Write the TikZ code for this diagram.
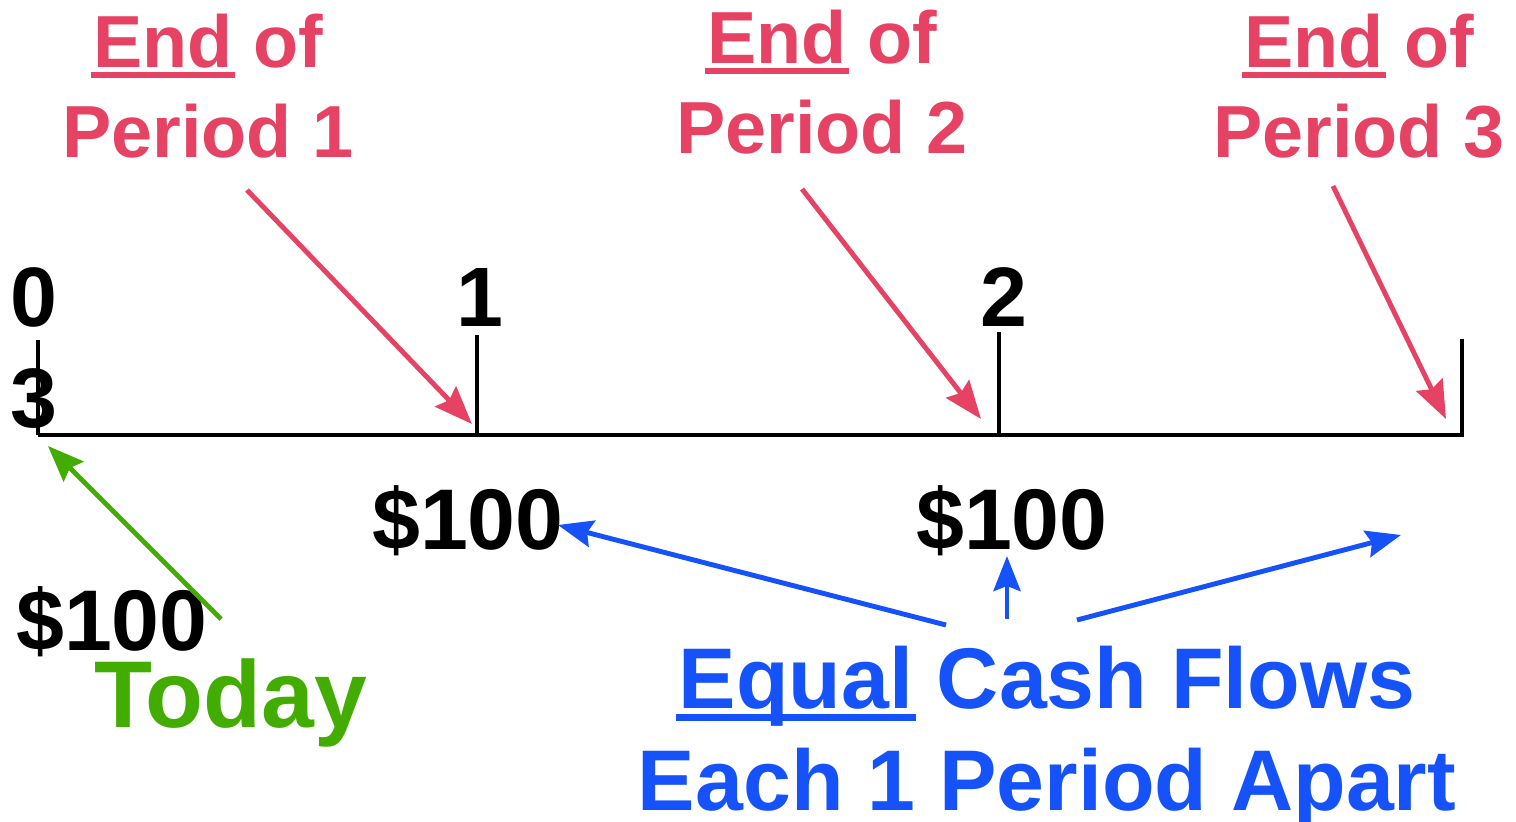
\documentclass[tikz,border=0pt]{standalone}
\usepackage{fontspec}
\setmainfont{Liberation Sans}
\usetikzlibrary{arrows.meta}

\definecolor{endred}{RGB}{230,67,100}
\definecolor{todaygreen}{RGB}{66,172,0}
\definecolor{flowblue}{RGB}{22,82,250}

% thick underline under one word
\newcommand{\ulword}[1]{\setbox0\hbox{#1}\rlap{\hspace*{-0.03em}\rule[-0.15em]{\dimexpr\wd0+0.06em\relax}{0.085em}}\box0\relax}

\begin{document}
\begin{tikzpicture}[x=0.1mm, y=-0.1mm,
  endlbl/.style={text=endred, font=\fontsize{21}{25.6}\selectfont\bfseries,
                 align=center, anchor=base, inner sep=0pt},
  num/.style={font=\fontsize{24}{24}\selectfont\bfseries, anchor=base, inner sep=0pt},
  cash/.style={font=\fontsize{24.5}{24.5}\selectfont\bfseries, anchor=base, inner sep=0pt},
  flowlbl/.style={text=flowblue, font=\fontsize{24.5}{29}\selectfont\bfseries,
                  align=center, anchor=base, inner sep=0pt},
  axisline/.style={line width=1.4pt},
  tickline/.style={line width=1.2pt},
  redarr/.style={endred, line width=1.4pt, -{Stealth[length=3.8mm, width=2.9mm, inset=0.5mm]}},
  greenarr/.style={todaygreen, line width=1.4pt, -{Stealth[length=3.6mm, width=2.8mm, inset=0.5mm]}},
  bluearr/.style={flowblue, line width=1.4pt, -{Stealth[length=3.5mm, width=2.7mm, inset=0.5mm]}},
]
\useasboundingbox (0,0) rectangle (1516,822);

% --- Time line ---
\coordinate (t0) at (38,435);
\coordinate (t1) at (477,435);
\coordinate (t2) at (999,435);
\coordinate (t3) at (1462,435);
\draw[axisline] (t0) -- (t3) -- ++(0,-96);
\foreach \t/\h in {t0/95, t1/100, t2/103}
  \draw[tickline] (\t) -- ++(0,-\h);

\node[num] (n0) at (34,326) {0};
\node[num] (n3) at (34,427) {3};
\node[num] (n1) at (480,326) {1};
\node[num] (n2) at (1004,326) {2};

% --- End of period labels ---
\node[endlbl] (end1) at (208,157) {\ulword{End} of\\Period 1};
\node[endlbl] (end2) at (822,153) {\ulword{End} of\\Period 2};
\node[endlbl] (end3) at (1359,157) {\ulword{End} of\\Period 3};

\coordinate (e1) at (247,190);
\coordinate (e2) at (802,189);
\coordinate (e3) at (1333,186);
\coordinate (p1) at (472,424);
\coordinate (p2) at (981,419);
\coordinate (p3) at (1446,419);
\draw[redarr] (e1) -- (p1);
\draw[redarr] (e2) -- (p2);
\draw[redarr] (e3) -- (p3);

% --- Cash flows ---
\node[cash] (c0) at (112,650) {\$100};
\node[cash] (c1) at (468,549) {\$100};
\node[cash] (c2) at (1012,549) {\$100};

\node[text=todaygreen, font=\fontsize{27}{27}\selectfont\bfseries, anchor=base, inner sep=0pt]
  (today) at (231,727) {Today};
\coordinate (g0) at (221,619);
\coordinate (g1) at (48,446);
\draw[greenarr] (g0) -- (g1);

\node[flowlbl] (flows) at (1047,810) {\ulword{Equal} Cash Flows\\Each 1 Period Apart};
\coordinate (b1) at (946,625);
\coordinate (b2) at (1007,619);
\coordinate (b3) at (1077,620);
\coordinate (q1) at (558,525);
\coordinate (q2) at (1007,556);
\coordinate (q3) at (1401,535);
\draw[bluearr] (b1) -- (q1);
\draw[bluearr] (b2) -- (q2);
\draw[bluearr] (b3) -- (q3);
\end{tikzpicture}
\end{document}
